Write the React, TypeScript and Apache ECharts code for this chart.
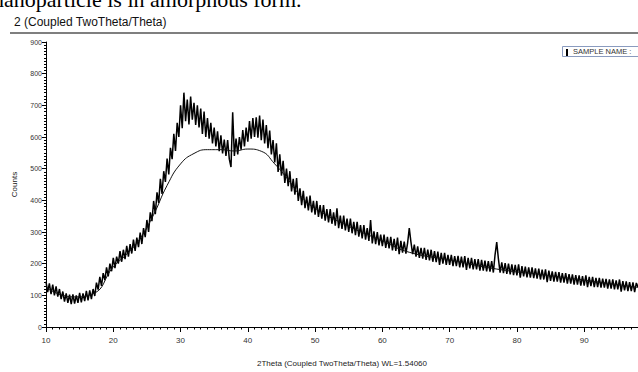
import React, { useEffect, useRef } from "react";
import * as echarts from "echarts";

// 2Theta grid of the measured pattern: starts at 10°, one value every 0.25°
const scanStart = 10;
const scanStep = 0.25;
const counts: number[] = [
  143, 110, 138, 104, // 10
  134, 100, 128, 96, // 11
  120, 88, 112, 80, // 12
  106, 76, 102, 72, // 13
  103, 74, 100, 76, // 14
  108, 78, 106, 82, // 15
  114, 84, 116, 88, // 16
  120, 98, 140, 118, // 17
  158, 130, 170, 148, // 18
  188, 160, 200, 176, // 19
  218, 186, 222, 200, // 20
  240, 206, 244, 214, // 21
  256, 222, 262, 232, // 22
  276, 240, 282, 252, // 23
  298, 262, 312, 284, // 24
  338, 300, 362, 334, // 25
  398, 356, 425, 392, // 26
  468, 420, 492, 458, // 27
  532, 482, 566, 530, // 28
  610, 556, 645, 600, // 29
  700, 628, 740, 650, // 30
  718, 640, 728, 655, // 31
  708, 638, 700, 630, // 32
  690, 610, 680, 600, // 33
  660, 595, 645, 580, // 34
  630, 570, 618, 555, // 35
  605, 548, 592, 540, // 36
  590, 530, 505, 678, // 37
  540, 595, 545, 600, // 38
  560, 622, 570, 630, // 39
  585, 650, 595, 660, // 40
  600, 662, 598, 668, // 41
  590, 655, 580, 638, // 42
  565, 620, 545, 590, // 43
  520, 580, 490, 545, // 44
  478, 525, 455, 500, // 45
  445, 492, 428, 468, // 46
  418, 470, 398, 438, // 47
  385, 430, 375, 412, // 48
  368, 415, 362, 398, // 49
  355, 398, 348, 385, // 50
  342, 385, 336, 372, // 51
  330, 372, 326, 362, // 52
  320, 375, 312, 352, // 53
  310, 352, 305, 342, // 54
  300, 342, 296, 332, // 55
  290, 332, 285, 322, // 56
  280, 322, 276, 312, // 57
  272, 338, 264, 302, // 58
  262, 300, 258, 292, // 59
  255, 292, 250, 285, // 60
  248, 285, 242, 278, // 61
  240, 282, 230, 272, // 62
  235, 270, 232, 265, // 63
  312, 268, 230, 260, // 64
  222, 255, 218, 250, // 65
  216, 250, 212, 244, // 66
  210, 244, 206, 240, // 67
  205, 238, 196, 234, // 68
  200, 234, 196, 228, // 69
  196, 228, 192, 224, // 70
  192, 225, 188, 222, // 71
  188, 224, 180, 218, // 72
  185, 218, 182, 214, // 73
  182, 214, 178, 212, // 74
  178, 210, 176, 208, // 75
  175, 208, 172, 228, // 76
  268, 215, 172, 204, // 77
  170, 202, 168, 200, // 78
  166, 198, 164, 196, // 79
  163, 198, 156, 192, // 80
  160, 191, 157, 188, // 81
  156, 188, 154, 185, // 82
  153, 184, 150, 181, // 83
  150, 182, 142, 178, // 84
  146, 176, 143, 174, // 85
  143, 173, 140, 170, // 86
  140, 170, 137, 167, // 87
  137, 166, 134, 164, // 88
  134, 163, 131, 161, // 89
  131, 163, 126, 158, // 90
  129, 158, 126, 155, // 91
  126, 155, 124, 153, // 92
  124, 152, 121, 150, // 93
  121, 150, 119, 147, // 94
  119, 150, 112, 145, // 95
  116, 144, 113, 142, // 96
  113, 141, 110, 139, // 97
  126, // 98
];

// Fitted background curve
const bgTheta = [10, 14, 17, 20, 22, 24, 26, 28, 30, 32, 34, 36, 38, 40, 42, 44, 46, 48, 50, 55, 60, 64, 70, 77, 85, 90, 98];
const bgCounts = [125, 95, 105, 190, 230, 280, 355, 447, 515, 548, 560, 560, 556, 562, 555, 515, 465, 410, 375, 318, 272, 236, 212, 183, 162, 148, 125];

const titleText = "2 (Coupled TwoTheta/Theta)";
const xName = "2Theta (Coupled TwoTheta/Theta) WL=1.54060";
const yName = "Counts";
const legendName = "SAMPLE NAME :";
const captionText = "nanoparticle is in amorphous form.";

const FONT = "'Liberation Sans', Arial, sans-serif";

export default function App() {
  const ref = useRef<HTMLDivElement>(null);
  useEffect(() => {
    document.body.style.margin = "0";
    if (!ref.current) return;
    const chart = echarts.init(ref.current, undefined, { renderer: "svg" });
    const scan = counts.map((c, i) => [scanStart + i * scanStep, c]);
    const bg = bgTheta.map((t, i) => [t, bgCounts[i]]);
    chart.setOption({
      animation: false,
      backgroundColor: "#ffffff",
      title: {
        text: titleText,
        left: 9,
        top: 11,
        textStyle: { fontFamily: FONT, fontSize: 12, fontWeight: "normal", color: "#111" },
      },
      grid: { left: 46, right: -1, top: 42, bottom: 42 },
      xAxis: {
        type: "value",
        min: 10,
        max: 98,
        interval: 10,
        offset: 3,
        name: xName,
        nameLocation: "middle",
        nameGap: 29,
        nameTextStyle: { fontFamily: FONT, fontSize: 8, color: "#222" },
        axisLine: { show: true, lineStyle: { color: "#000", width: 1 } },
        axisTick: { show: true, inside: false, length: 5, lineStyle: { color: "#000" } },
        minorTick: { show: true, splitNumber: 10, length: 2.5, lineStyle: { color: "#000" } },
        axisLabel: { fontFamily: FONT, fontSize: 8, color: "#333", margin: 6, showMaxLabel: false },
        splitLine: { show: false },
        minorSplitLine: { show: false },
      },
      yAxis: {
        type: "value",
        min: 0,
        max: 900,
        interval: 100,
        name: yName,
        nameLocation: "middle",
        nameGap: 28,
        nameTextStyle: { fontFamily: FONT, fontSize: 8, color: "#222" },
        axisLine: { show: true, lineStyle: { color: "#000", width: 1 } },
        axisTick: { show: true, inside: false, length: 4, lineStyle: { color: "#000" } },
        minorTick: { show: true, splitNumber: 10, length: 2, lineStyle: { color: "#000" } },
        axisLabel: { fontFamily: FONT, fontSize: 7, color: "#333", margin: 4 },
        splitLine: { show: false },
        minorSplitLine: { show: false },
      },
      series: [
        {
          type: "line",
          name: legendName,
          data: scan,
          symbol: "none",
          lineStyle: { color: "#000", width: 1.5 },
          z: 2,
        },
        {
          type: "line",
          data: bg,
          symbol: "none",
          smooth: true,
          lineStyle: { color: "#111", width: 1 },
          z: 3,
        },
      ],
      graphic: [
        {
          type: "text",
          x: -7,
          y: -1,
          style: {
            text: captionText,
            font: "22px 'Liberation Serif', 'Times New Roman', serif",
            fill: "#000",
            verticalAlign: "middle",
          },
        },
        {
          type: "line",
          shape: { x1: 10, y1: 33, x2: 638, y2: 33 },
          style: { stroke: "#555", lineWidth: 1.5 },
        },
        {
          type: "rect",
          shape: { x: 562.5, y: 46.5, width: 80, height: 10 },
          style: { fill: "#fff", stroke: "#8a9bbf", lineWidth: 1 },
        },
        {
          type: "rect",
          shape: { x: 566, y: 49, width: 2, height: 7 },
          style: { fill: "#000" },
        },
        {
          type: "text",
          x: 573,
          y: 51.5,
          style: {
            text: legendName,
            font: "7.5px 'Liberation Sans', Arial, sans-serif",
            fill: "#333",
            verticalAlign: "middle",
          },
        },
      ],
    });
    return () => chart.dispose();
  }, []);
  return <div ref={ref} style={{ width: 638, height: 372 }} />;
}
